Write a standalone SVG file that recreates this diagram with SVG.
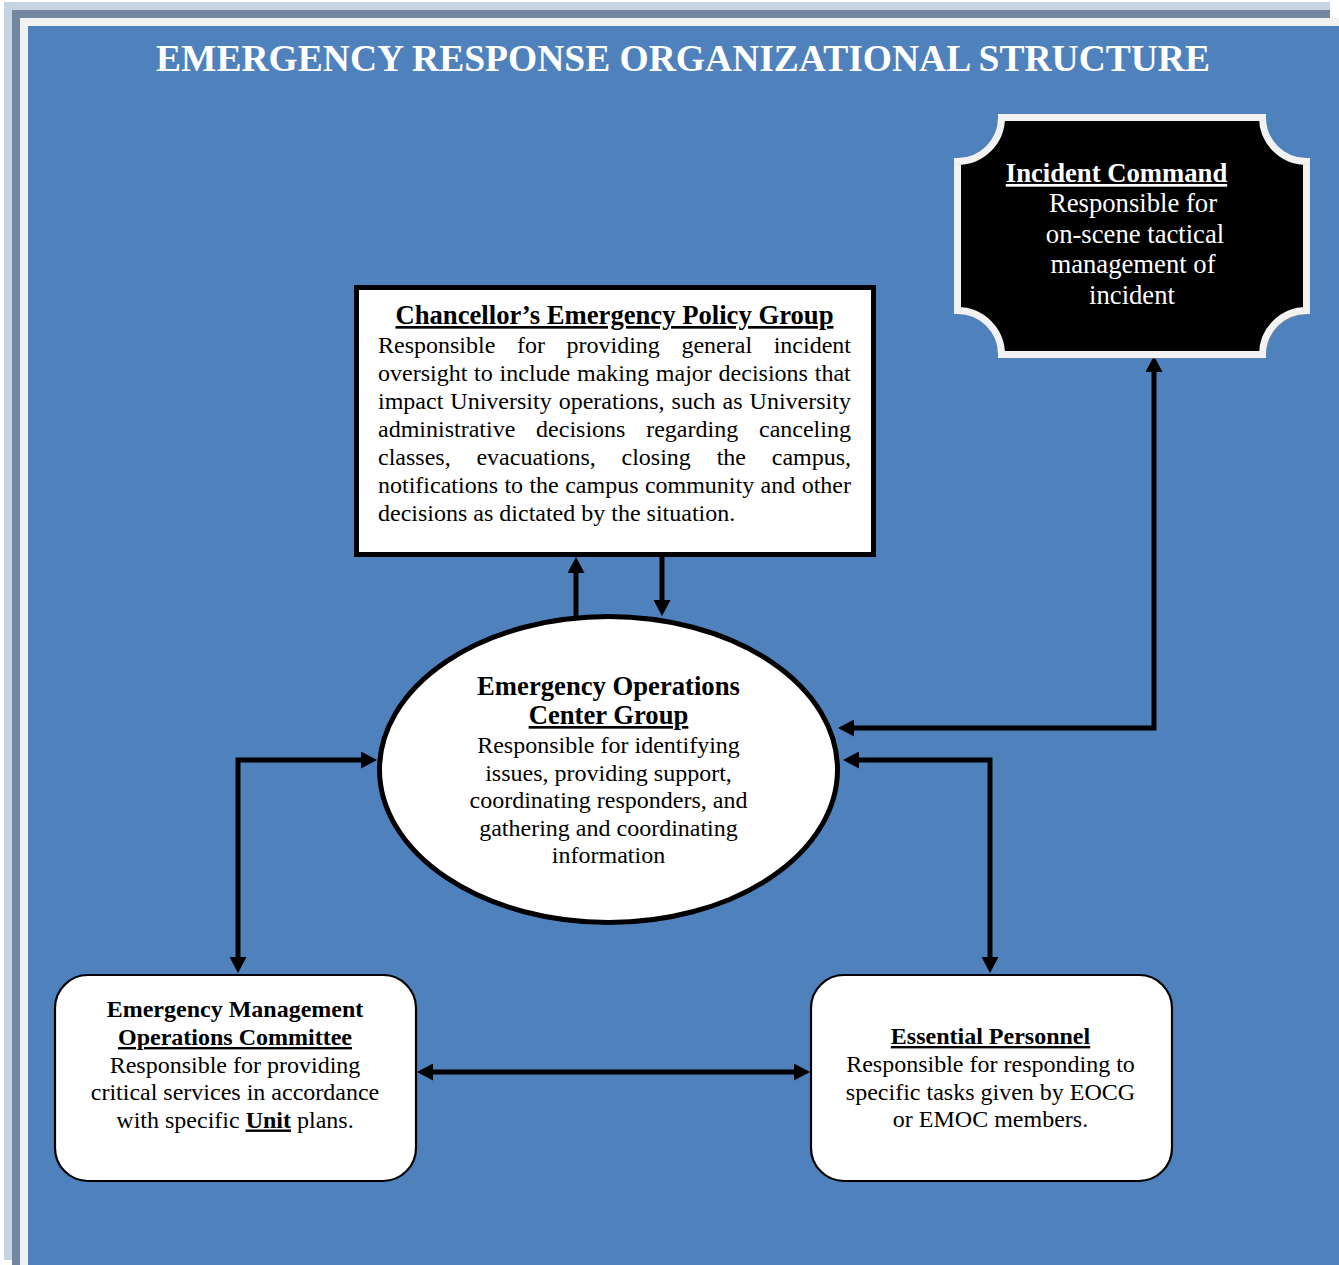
<svg xmlns="http://www.w3.org/2000/svg" width="1339" height="1265" viewBox="0 0 1339 1265">
<style>
text{font-family:"Liberation Serif","Times New Roman",serif;fill:#000}
.t{font-weight:bold;font-size:26.67px}
.b{font-size:24px}
.bt{font-weight:bold;font-size:24px}
.u{text-decoration:underline}
.w{fill:#fff}
.conn{fill:none;stroke:#000;stroke-width:5;stroke-linejoin:miter}
</style>
<defs>
<marker id="ah" viewBox="0 0 16 17" markerWidth="16" markerHeight="17" markerUnits="userSpaceOnUse" refX="10" refY="8.5" orient="auto-start-reverse">
<path d="M0,0 L16,8.5 L0,17 Z" fill="#000"/>
</marker>
</defs>
<g id="background">
<rect x="4" y="2" width="1326" height="1258" fill="#c6d3e3"/>
<rect x="12" y="10" width="1318" height="1255" fill="#7586a0"/>
<rect x="20" y="18" width="1319" height="1247" fill="#f2f2f2"/>
<rect x="28" y="26" width="1311" height="1239" fill="#4f81bd"/>
<text x="683" y="71" text-anchor="middle" font-weight="bold" font-size="38" textLength="1054" lengthAdjust="spacingAndGlyphs" class="w">EMERGENCY RESPONSE ORGANIZATIONAL STRUCTURE</text>
</g>
<g id="connectors">
<path class="conn" d="M576,616 V563" marker-end="url(#ah)"/>
<path class="conn" d="M662,557 V610" marker-end="url(#ah)"/>
<path class="conn" d="M844,728 H1154 V362" marker-start="url(#ah)" marker-end="url(#ah)"/>
<path class="conn" d="M849,760 H990 V967" marker-start="url(#ah)" marker-end="url(#ah)"/>
<path class="conn" d="M238,967 V760 H371" marker-start="url(#ah)" marker-end="url(#ah)"/>
<path class="conn" d="M423,1072 H804" marker-start="url(#ah)" marker-end="url(#ah)"/>
</g>
<g id="incident-command">
<path transform="translate(3,4)" fill="#7586a0" d="M1001.5,117.5 H1262.5 A44,44 0 0 0 1306.5,161.5 V310.5 A44,44 0 0 0 1262.5,354.5 H1001.5 A44,44 0 0 0 957.5,310.5 V161.5 A44,44 0 0 0 1001.5,117.5 Z"/>
<path fill="#000" stroke="#f2f2f2" stroke-width="7" d="M1001.5,117.5 H1262.5 A44,44 0 0 0 1306.5,161.5 V310.5 A44,44 0 0 0 1262.5,354.5 H1001.5 A44,44 0 0 0 957.5,310.5 V161.5 A44,44 0 0 0 1001.5,117.5 Z"/>
<text x="1116.5" y="182" text-anchor="middle" class="t u w">Incident Command</text>
<text text-anchor="middle" font-size="26.67" class="w"><tspan x="1133" y="212">Responsible for</tspan><tspan x="1135" y="242.7">on-scene tactical</tspan><tspan x="1133" y="273.4">management of</tspan><tspan x="1132" y="304">incident</tspan></text>
</g>
<g id="policy-group">
<rect x="356.5" y="287.5" width="517" height="267" fill="#fff" stroke="#000" stroke-width="5"/>
<text x="614.5" y="324" text-anchor="middle" class="t u">Chancellor’s Emergency Policy Group</text>
<text class="b" x="378"><tspan x="378" y="352.5" word-spacing="15.6">Responsible for providing general incident</tspan><tspan x="378" y="380.5" word-spacing="0.8">oversight to include making major decisions that</tspan><tspan x="378" y="408.5" word-spacing="1">impact University operations, such as University</tspan><tspan x="378" y="436.5" word-spacing="14.8">administrative decisions regarding canceling</tspan><tspan x="378" y="464.5" word-spacing="19.8">classes, evacuations, closing the campus,</tspan><tspan x="378" y="492.5" word-spacing="0.4">notifications to the campus community and other</tspan><tspan x="378" y="520.5">decisions as dictated by the situation.</tspan></text>
</g>
<g id="eoc-group">
<ellipse cx="608.5" cy="769.5" rx="229" ry="153" fill="#fff" stroke="#000" stroke-width="5"/>
<text x="608.5" y="695" text-anchor="middle" class="t">Emergency Operations</text>
<text x="608.5" y="724" text-anchor="middle" class="t u">Center Group</text>
<text text-anchor="middle" class="b"><tspan x="608.5" y="753">Responsible for identifying</tspan><tspan x="608.5" y="780.5">issues, providing support,</tspan><tspan x="608.5" y="808">coordinating responders, and</tspan><tspan x="608.5" y="835.5">gathering and coordinating</tspan><tspan x="608.5" y="863">information</tspan></text>
</g>
<g id="emoc">
<rect x="55" y="975" width="361" height="206" rx="33" ry="33" fill="#fff" stroke="#000" stroke-width="2.2"/>
<text x="235" y="1017" text-anchor="middle" class="bt">Emergency Management</text>
<text x="235" y="1045" text-anchor="middle" class="bt u">Operations Committee</text>
<text text-anchor="middle" class="b"><tspan x="235" y="1072.5">Responsible for providing</tspan><tspan x="235" y="1100">critical services in accordance</tspan><tspan x="235" y="1127.5">with specific <tspan font-weight="bold" text-decoration="underline">Unit</tspan> plans.</tspan></text>
</g>
<g id="essential-personnel">
<rect x="811" y="975" width="361" height="206" rx="33" ry="33" fill="#fff" stroke="#000" stroke-width="2.2"/>
<text x="990.5" y="1044" text-anchor="middle" class="bt u">Essential Personnel</text>
<text text-anchor="middle" class="b"><tspan x="990.5" y="1072">Responsible for responding to</tspan><tspan x="990.5" y="1099.5">specific tasks given by EOCG</tspan><tspan x="990.5" y="1127">or EMOC members.</tspan></text>
</g>
</svg>
